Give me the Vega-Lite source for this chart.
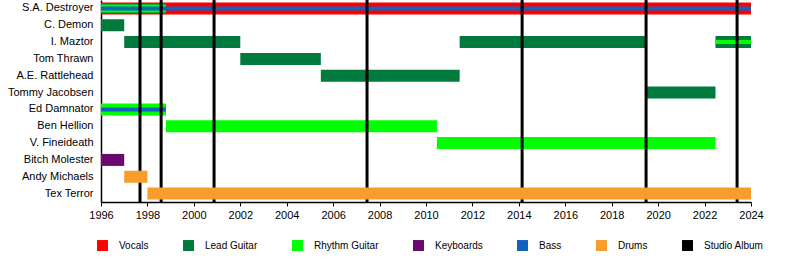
{
  "$schema": "https://vega.github.io/schema/vega-lite/v6.json",
  "width": 650,
  "height": 202,
  "autosize": {"type": "none"},
  "padding": {"left": 101, "top": 0, "right": 49, "bottom": 71},
  "background": "white",
  "config": {
    "view": {"stroke": null},
    "font": "Liberation Sans",
    "axis": {"grid": false, "domainColor": "#000", "tickColor": "#000", "labelColor": "#000", "labelFontSize": 11, "labelFont": "Liberation Sans"},
    "legend": {"labelFont": "Liberation Sans", "labelFontSize": 10, "labelColor": "#000"}
  },
  "datasets": {
    "stints": [
      {"member": "S.A. Destroyer", "role": "Vocals", "start": 1996, "end": 2024, "roleOrder": 1},
      {"member": "S.A. Destroyer", "role": "Lead Guitar", "start": 1996, "end": 1998.8, "roleOrder": 2},
      {"member": "S.A. Destroyer", "role": "Rhythm Guitar", "start": 1996, "end": 1998.8, "roleOrder": 3},
      {"member": "S.A. Destroyer", "role": "Bass", "start": 1996, "end": 2024, "roleOrder": 4},
      {"member": "C. Demon", "role": "Lead Guitar", "start": 1996, "end": 1997, "roleOrder": 1},
      {"member": "I. Maztor", "role": "Lead Guitar", "start": 1997, "end": 2002, "roleOrder": 1},
      {"member": "I. Maztor", "role": "Lead Guitar", "start": 2011.45, "end": 2019.48, "roleOrder": 1},
      {"member": "I. Maztor", "role": "Lead Guitar", "start": 2022.47, "end": 2024, "roleOrder": 1},
      {"member": "I. Maztor", "role": "Rhythm Guitar", "start": 2022.47, "end": 2024, "roleOrder": 4},
      {"member": "Tom Thrawn", "role": "Lead Guitar", "start": 2002, "end": 2005.47, "roleOrder": 1},
      {"member": "A.E. Rattlehead", "role": "Lead Guitar", "start": 2005.47, "end": 2011.45, "roleOrder": 1},
      {"member": "Tommy Jacobsen", "role": "Lead Guitar", "start": 2019.48, "end": 2022.47, "roleOrder": 1},
      {"member": "Ed Damnator", "role": "Rhythm Guitar", "start": 1996, "end": 1998.8, "roleOrder": 1},
      {"member": "Ed Damnator", "role": "Bass", "start": 1996, "end": 1998.8, "roleOrder": 4},
      {"member": "Ben Hellion", "role": "Rhythm Guitar", "start": 1998.8, "end": 2010.47, "roleOrder": 1},
      {"member": "V. Fineideath", "role": "Rhythm Guitar", "start": 2010.47, "end": 2022.47, "roleOrder": 1},
      {"member": "Bitch Molester", "role": "Keyboards", "start": 1996, "end": 1997, "roleOrder": 1},
      {"member": "Andy Michaels", "role": "Drums", "start": 1997, "end": 1998, "roleOrder": 1},
      {"member": "Tex Terror", "role": "Drums", "start": 1998, "end": 2024, "roleOrder": 1}
    ],
    "albums": [
      {"date": 1997.68, "role": "Studio Album"},
      {"date": 1998.59, "role": "Studio Album"},
      {"date": 2000.87, "role": "Studio Album"},
      {"date": 2007.46, "role": "Studio Album"},
      {"date": 2014.14, "role": "Studio Album"},
      {"date": 2019.48, "role": "Studio Album"},
      {"date": 2023.4, "role": "Studio Album"}
    ]
  },
  "layer": [
    {
      "data": {"name": "stints"},
      "transform": [{"filter": "datum.role !== 'Drums'"}],
      "mark": {"type": "bar", "cornerRadius": 0},
      "encoding": {
        "y": {
          "field": "member", "type": "nominal",
          "scale": {
            "domain": ["S.A. Destroyer", "C. Demon", "I. Maztor", "Tom Thrawn", "A.E. Rattlehead", "Tommy Jacobsen", "Ed Damnator", "Ben Hellion", "V. Fineideath", "Bitch Molester", "Andy Michaels", "Tex Terror"],
            "paddingInner": 0, "paddingOuter": 0
          },
          "axis": {"title": null, "ticks": false, "labelPadding": 8, "domainWidth": 1.5}
        },
        "x": {
          "field": "start", "type": "quantitative",
          "scale": {"domain": [1996, 2024], "nice": false, "zero": false},
          "axis": {
            "title": null,
            "values": [1996, 1997, 1998, 1999, 2000, 2001, 2002, 2003, 2004, 2005, 2006, 2007, 2008, 2009, 2010, 2011, 2012, 2013, 2014, 2015, 2016, 2017, 2018, 2019, 2020, 2021, 2022, 2023, 2024],
            "labelExpr": "datum.value % 2 === 0 ? datum.value : ''",
            "tickSize": 4, "labelPadding": 3, "domainWidth": 1.5, "labelFlush": false
          }
        },
        "x2": {"field": "end"},
        "size": {"field": "roleOrder", "type": "quantitative", "scale": {"type": "threshold", "domain": [2, 3, 4], "range": [12, 10, 8, 4]}, "legend": null},
        "color": {
          "field": "role", "type": "nominal",
          "scale": {
            "domain": ["Vocals", "Lead Guitar", "Rhythm Guitar", "Keyboards", "Bass", "Drums", "Studio Album"],
            "range": ["#ff0000", "#007a3d", "#00ff00", "#6a0a6e", "#0f62c0", "#f89c2c", "#000000"]
          },
          "legend": {
            "title": null, "orient": "none", "direction": "horizontal",
            "legendX": -4, "legendY": 240,
            "symbolType": "square", "symbolSize": 120, "symbolStrokeWidth": 0,
            "labelOffset": 11, "columnPadding": 34, "padding": 0
          }
        }
      }
    },
    {
      "data": {"name": "albums"},
      "mark": {"type": "rule", "strokeWidth": 3},
      "encoding": {
        "x": {"field": "date", "type": "quantitative"},
        "color": {"field": "role", "type": "nominal"}
      }
    },
    {
      "data": {"name": "stints"},
      "transform": [{"filter": "datum.role === 'Drums'"}],
      "mark": {"type": "bar", "cornerRadius": 0, "size": 12},
      "encoding": {
        "y": {"field": "member", "type": "nominal"},
        "x": {"field": "start", "type": "quantitative"},
        "x2": {"field": "end"},
        "color": {"field": "role", "type": "nominal"}
      }
    }
  ]
}
